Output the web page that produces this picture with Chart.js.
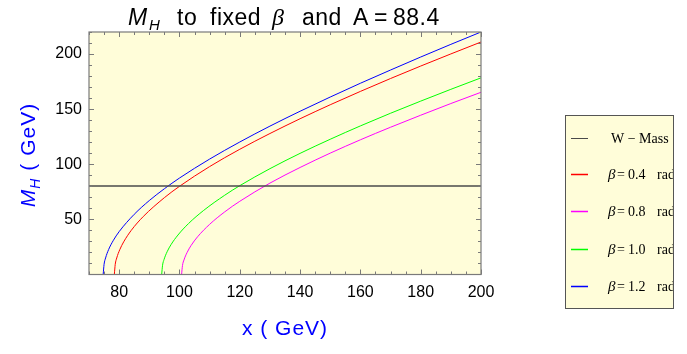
<!DOCTYPE html>
<html>
<head>
<meta charset="utf-8">
<script src="https://cdn.jsdelivr.net/npm/chart.js@4.4.0/dist/chart.umd.min.js"></script>
<style>
html, body { margin: 0; padding: 0; background: #fff; }
</style>
</head>
<body>
<canvas id="grafica" width="687" height="354"></canvas>
<script>
// etiquetas de los ejes
var xTicks = [80, 100, 120, 140, 160, 180, 200];
var yTicks = [50, 100, 150, 200];

// masa del W
var wX = [70, 200];
var wY = [80.4, 80.4];

// curvas M_H para cada beta
var b04X = [78.4, 78.7, 79.2, 80.2, 81.5, 84, 88, 95, 100, 110, 120, 130, 140, 150, 160, 170, 180, 190, 200];
var b04Y = [0, 9.2, 15.0, 22.5, 29.6, 40.0, 52.6, 69.7, 80.0, 97.9, 113.6, 127.9, 141.3, 154.0, 166.1, 177.8, 189.1, 200.1, 210.9];

var b08X = [100.7, 101.0, 101.5, 102.5, 103.8, 106, 110, 115, 120, 130, 140, 150, 160, 170, 180, 190, 200];
var b08Y = [0, 8.1, 13.2, 19.8, 26.1, 34.2, 45.5, 56.8, 66.4, 82.9, 97.1, 110.1, 122.2, 133.6, 144.5, 155.1, 165.3];

var b10X = [94.1, 94.4, 94.9, 95.9, 97.2, 99.5, 103, 108, 115, 120, 130, 140, 150, 160, 170, 180, 190, 200];
var b10Y = [0, 8.4, 13.7, 20.6, 27.1, 35.8, 46.2, 58.1, 71.9, 80.6, 96.0, 109.9, 122.7, 134.8, 146.3, 157.3, 168.0, 178.4];

var b12X = [74.7, 75.0, 75.5, 76.5, 78, 80, 85, 90, 95, 100, 110, 120, 130, 140, 150, 160, 170, 180, 190, 200];
var b12Y = [0, 9.2, 15.0, 22.6, 30.6, 38.9, 54.6, 67.1, 77.8, 87.5, 104.7, 120.2, 134.6, 148.1, 161.0, 173.5, 185.5, 197.3, 208.8, 220.0];

var etiquetas = ["W \u2212 Mass", "0.4", "0.8", "1.0", "1.2"];
var colores = ["#4a4a4a", "#ff0000", "#ff00ff", "#00ff00", "#0000ff"];

var fondo = "rgb(255,253,217)";
var sans = "'Liberation Sans', Arial, sans-serif";
var serif = "'Liberation Serif', 'Times New Roman', serif";

function pares(xs, ys) {
	var out = [];
	for (var i = 0; i < xs.length; i++) {
		out.push({x: xs[i], y: ys[i]});
	}
	return out;
}

function serie(i, xs, ys, ancho) {
	return {
		label: etiquetas[i],
		data: pares(xs, ys),
		borderColor: colores[i],
		backgroundColor: colores[i],
		borderWidth: ancho,
		pointRadius: 0,
		cubicInterpolationMode: 'monotone',
		fill: false
	};
}

// dibuja trozos de texto (normal / italica / subindice) seguidos
function textoMixto(ctx, trozos, x, y) {
	var total = 0;
	for (var i = 0; i < trozos.length; i++) {
		ctx.font = trozos[i].f;
		total += ctx.measureText(trozos[i].t).width;
	}
	var px = x - total / 2;
	ctx.textAlign = 'left';
	ctx.textBaseline = 'alphabetic';
	for (var j = 0; j < trozos.length; j++) {
		ctx.font = trozos[j].f;
		ctx.fillText(trozos[j].t, px, y + (trozos[j].dy || 0));
		px += ctx.measureText(trozos[j].t).width;
	}
}

var marco = {
	id: 'marco',
	beforeDatasetsDraw: function(chart) {
		var ctx = chart.ctx, a = chart.chartArea;
		ctx.save();
		ctx.fillStyle = fondo;
		ctx.fillRect(a.left, a.top, a.right - a.left, a.bottom - a.top);
		ctx.restore();
	},
	afterDatasetsDraw: function(chart) {
		var ctx = chart.ctx, a = chart.chartArea;
		var sx = chart.scales.x, sy = chart.scales.y;
		ctx.save();
		ctx.strokeStyle = '#7a7a7a';
		ctx.lineWidth = 1;
		ctx.beginPath();
		for (var v = 70; v <= 200; v += 5) {
			var px = Math.round(sx.getPixelForValue(v)) + 0.5;
			var l = (v % 20 === 0) ? 5 : 3;
			ctx.moveTo(px, a.bottom); ctx.lineTo(px, a.bottom - l);
			ctx.moveTo(px, a.top); ctx.lineTo(px, a.top + l);
		}
		for (var w = 10; w <= 220; w += 10) {
			var py = Math.round(sy.getPixelForValue(w)) + 0.5;
			var m = (w % 50 === 0) ? 5 : 3;
			ctx.moveTo(a.left, py); ctx.lineTo(a.left + m, py);
			ctx.moveTo(a.right, py); ctx.lineTo(a.right - m, py);
		}
		ctx.stroke();
		ctx.lineWidth = 1.2;
		ctx.strokeRect(a.left, a.top, a.right - a.left, a.bottom - a.top);
		ctx.restore();
	},
	afterDraw: function(chart) {
		var ctx = chart.ctx, a = chart.chartArea;
		var cx = (a.left + a.right) / 2;
		ctx.save();

		// titulo, cada palabra en su sitio como en la figura
		ctx.fillStyle = '#000';
		ctx.textAlign = 'left';
		ctx.textBaseline = 'alphabetic';
		ctx.letterSpacing = '0.5px';
		ctx.font = 'italic 23px ' + sans;
		ctx.fillText('M', 128, 25);
		ctx.font = 'italic 15px ' + sans;
		ctx.fillText('H', 149, 30);
		ctx.font = '23px ' + sans;
		ctx.fillText('to', 177, 25);
		ctx.fillText('fixed', 210, 25);
		ctx.font = 'italic 24px ' + serif;
		ctx.fillText('\u03b2', 272, 25);
		ctx.font = '23px ' + sans;
		ctx.fillText('and', 302, 25);
		ctx.fillText('A\u2009=\u200988.4', 353, 25);

		// titulo eje x
		ctx.fillStyle = '#0000ff';
		ctx.letterSpacing = '1px';
		textoMixto(ctx, [
			{t: 'x ( GeV)', f: '21px ' + sans}
		], cx, 335);

		// titulo eje y
		ctx.save();
		ctx.translate(35, 155);
		ctx.rotate(-Math.PI / 2);
		textoMixto(ctx, [
			{t: 'M', f: 'italic 21px ' + sans},
			{t: 'H', f: 'italic 14px ' + sans, dy: 5},
			{t: ' ( GeV)', f: '21px ' + sans}
		], 0, 0);
		ctx.restore();
		ctx.letterSpacing = '0px';

		// leyenda
		var bx = 565.5, by = 115.5, bw = 108, bh = 193;
		ctx.fillStyle = fondo;
		ctx.fillRect(bx, by, bw, bh);
		ctx.save();
		ctx.beginPath();
		ctx.rect(bx, by, bw, bh);
		ctx.clip();
		var filas = [138, 174, 211, 248.5, 286];
		var ds = chart.data.datasets;
		for (var i = 0; i < ds.length; i++) {
			var fy = filas[i];
			ctx.strokeStyle = ds[i].borderColor;
			ctx.lineWidth = i === 0 ? 1 : 1.6;
			ctx.beginPath();
			ctx.moveTo(571, Math.round(fy) + 0.5);
			ctx.lineTo(588, Math.round(fy) + 0.5);
			ctx.stroke();
			ctx.fillStyle = '#000';
			ctx.textAlign = 'left';
			ctx.textBaseline = 'alphabetic';
			if (i === 0) {
				ctx.font = '14px ' + serif;
				ctx.fillText(ds[i].label, 611, fy + 5);
			} else {
				ctx.font = 'italic 15px ' + serif;
				ctx.fillText('\u03b2', 608, fy + 5);
				ctx.font = '14px ' + serif;
				ctx.fillText('=', 617, fy + 5);
				ctx.fillText(ds[i].label, 628, fy + 5);
				ctx.fillText('rad', 657, fy + 5);
			}
		}
		ctx.restore();
		ctx.strokeStyle = '#555';
		ctx.lineWidth = 1;
		ctx.strokeRect(bx, by, bw, bh);
		ctx.restore();
	}
};

var grafica = new Chart(document.getElementById('grafica'), {
	type: 'line',
	data: {
		datasets: [
			serie(0, wX, wY, 1.5),
			serie(1, b04X, b04Y, 1),
			serie(2, b08X, b08Y, 1),
			serie(3, b10X, b10Y, 1),
			serie(4, b12X, b12Y, 1)
		]
	},
	options: {
		responsive: false,
		animation: false,
		devicePixelRatio: 1,
		layout: { padding: { left: 0, top: 32, right: 206, bottom: 0 } },
		plugins: { legend: { display: false }, tooltip: { enabled: false } },
		scales: {
			x: {
				type: 'linear',
				min: 70,
				max: 200,
				grid: { display: false, drawTicks: false },
				border: { display: false },
				afterBuildTicks: function(s) { s.ticks = xTicks.map(function(v) { return {value: v}; }); },
				afterFit: function(s) { s.height = 79.5; },
				ticks: { color: '#000', padding: 8, maxRotation: 0, autoSkip: false, font: { family: sans, size: 16 } }
			},
			y: {
				type: 'linear',
				min: 0,
				max: 220,
				grid: { display: false, drawTicks: false },
				border: { display: false },
				afterBuildTicks: function(s) { s.ticks = yTicks.map(function(v) { return {value: v}; }); },
				afterFit: function(s) { s.width = 89; },
				ticks: { color: '#000', padding: 7, font: { family: sans, size: 16 } }
			}
		}
	},
	plugins: [marco]
});
</script>
</body>
</html>
